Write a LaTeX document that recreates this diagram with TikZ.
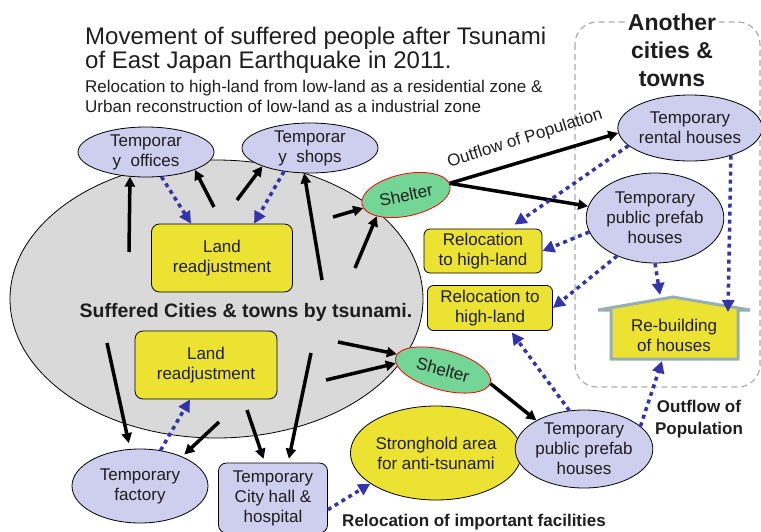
\documentclass[tikz,border=0pt]{standalone}
\usepackage{fontspec}
\setmainfont{Liberation Sans}
\usetikzlibrary{arrows.meta,shapes.geometric}
\definecolor{lav}{RGB}{206,206,238}
\definecolor{yel}{RGB}{236,226,50}
\definecolor{grn}{RGB}{115,213,150}
\definecolor{greyfill}{RGB}{217,217,217}
\definecolor{dotblue}{RGB}{51,51,170}
\definecolor{housebd}{RGB}{150,175,180}
\definecolor{dashgrey}{RGB}{170,170,170}
\definecolor{ink}{RGB}{30,30,30}
\begin{document}
\begin{tikzpicture}[x=1pt,y=-1pt,
 txt/.style={font=\fontsize{17}{20}\selectfont, align=center, inner sep=0pt, text=ink},
 lavell/.style={txt, ellipse, draw=black, line width=0.8pt, fill=lav},
 yelbox/.style={txt, rectangle, rounded corners=8pt, draw=black, line width=0.8pt, fill=yel},
 shel/.style={txt, ellipse, draw=red, line width=0.8pt, fill=grn, minimum height=42pt},
 blk/.style={line width=3.5pt, draw=black, -{Triangle[length=10pt,width=10pt]}},
 dot/.style={draw=dotblue, line width=3.5pt, dash pattern=on 4pt off 4pt, -{Triangle[length=12pt,width=12pt,fill=dotblue]}},
]
\path[use as bounding box] (0,0) rectangle (761,531);

% big area
\node[ellipse, draw=black, line width=0.8pt, fill=greyfill, minimum width=413pt, minimum height=278pt, inner sep=0pt] (city) at (216.5,299) {};
\node[txt, font=\bfseries\fontsize{19.5}{23}\selectfont] (suffered) at (246,312) {Suffered Cities \& towns by tsunami.};

% other cities box
\draw[dashgrey, line width=1.2pt, dash pattern=on 6pt off 4pt, rounded corners=22pt] (575,22) rectangle (760,387);
\node[txt, fill=white, inner sep=1pt, font=\bfseries\fontsize{23}{28}\selectfont] (another) at (672,50) {Another\\cities \&\\towns};

% titles
\node[anchor=base west, inner sep=0pt, text=ink, font=\fontsize{24}{28}\selectfont] (t1) at (85,44) {Movement of suffered people after Tsunami};
\node[anchor=base west, inner sep=0pt, text=ink, font=\fontsize{24}{28}\selectfont] (t2) at (85,68) {of East Japan Earthquake in 2011.};
\node[anchor=base west, inner sep=0pt, text=ink, font=\fontsize{17}{20}\selectfont] (s1) at (85,92) {Relocation to high-land from low-land as a residential zone \&};
\node[anchor=base west, inner sep=0pt, text=ink, font=\fontsize{17}{20}\selectfont] (s2) at (85,112) {Urban reconstruction of low-land as a industrial zone};

% nodes
\node[lavell, minimum width=136pt, minimum height=50pt] (offices) at (146,152) {Temporar\\y\ \ offices};
\node[lavell, minimum width=136pt, minimum height=50pt] (shops) at (310,148) {Temporar\\y\ \ shops};
\node[yelbox, minimum width=141pt, minimum height=68pt] (land1) at (222,258) {Land\\readjustment};
\node[shel, rotate=12, minimum width=90pt] (shelter1) at (406,195) {Shelter};
\node[yelbox, minimum width=142pt, minimum height=68pt] (land2) at (206,365) {Land\\readjustment};
\node[shel, rotate=-15, minimum width=98pt, minimum height=40pt] (shelter2) at (443,370) {Shelter};
\node[yelbox, rounded corners=6pt, minimum width=118pt, minimum height=44pt] (reloc1) at (483,251) {Relocation\\to high-land};
\node[yelbox, rounded corners=6pt, minimum width=125pt, minimum height=45pt] (reloc2) at (490,308) {Relocation to\\high-land};
\node[lavell, minimum width=138pt, minimum height=66pt] (rental) at (690,128) {Temporary\\rental houses};
\node[lavell, minimum width=114pt, minimum height=90pt] (prefab1) at (655,218) {Temporary\\public prefab\\houses};

% house
\draw[housebd, line width=3pt, fill=yel, line join=miter] (598,310) -- (673,297) -- (750,310) -- (738,310) -- (738,359) -- (611,359) -- (611,310) -- cycle;
\node[txt] (house) at (674,335) {Re-building\\of houses};

\node[lavell, minimum width=136pt, minimum height=74pt] (factory) at (140,486) {Temporary\\factory};
\node[txt, rectangle, rounded corners=8pt, draw=black, line width=0.8pt, fill=lav, minimum width=109pt, minimum height=70pt] (cityhall) at (273,498) {Temporary\\City hall \&\\hospital};
\node[txt, ellipse, draw=black, line width=0.8pt, fill=yel, minimum width=154pt, minimum height=94pt] (stronghold) at (436,453) {Stronghold area\\for anti-tsunami};
\node[lavell, minimum width=130pt, minimum height=78pt] (prefab2) at (584,449) {Temporary\\public prefab\\houses};

% labels
\node[txt, rotate=17.5] (outflow1) at (525,139) {Outflow of Population};
\node[txt, font=\bfseries\fontsize{17}{22}\selectfont] (outflow2) at (699,419) {Outflow of\\Population};
\node[txt, font=\bfseries\fontsize{17}{20}\selectfont, anchor=base] (reloclabel) at (474,526) {Relocation of important facilities};

% free ends
\coordinate (a1) at (129,252);
\coordinate (a2) at (214,207);
\coordinate (a3) at (237,200);
\coordinate (a4) at (322,280);
\coordinate (a5) at (333,217);
\coordinate (a6) at (355,268);
\coordinate (a7) at (338,342);
\coordinate (a8) at (326,380);
\coordinate (a9) at (107,343);
\coordinate (a10) at (219,422);
\coordinate (a11) at (247,410);
\coordinate (a12) at (311,353);
\coordinate (roofA) at (660,295);
\coordinate (roofB) at (728,312);
\coordinate (houseS) at (662,361);

% black arrows
\draw[blk] (a1) -- (offices.-123);
\draw[blk] (a2) -- (offices.-20);
\draw[blk] (a3) -- (shops.-159);
\draw[blk] (a4) -- (shops.-103);
\draw[blk] (a5) -- (shelter1.-175);
\draw[blk] (a6) -- (shelter1.-156);
\draw[blk] (shelter1.3) -- (rental.-176);
\draw[blk] (shelter1.3) -- (prefab1.170);
\draw[blk] (a7) -- (shelter2.176);
\draw[blk] (a8) -- (shelter2.-173);
\draw[blk] (shelter2.-1) -- (prefab2.149);
\draw[blk, shorten >=6pt] (a9) -- (factory.105);
\draw[blk, shorten >=3pt] (a10) -- (factory.35);
\draw[blk, shorten >=4pt] (a11) -- (cityhall.103);
\draw[blk, shorten >=4pt] (a12) -- (cityhall.67);

% dotted arrows
\draw[dot] (offices.-58) -- (land1.132);
\draw[dot] (shops.-138) -- (land1.47);
\draw[dot, shorten >=7pt] (rental.-164) -- (reloc1.41);
\draw[dot] (prefab1.-168) -- (reloc1.east);
\draw[dot] (prefab1.-135) -- (reloc2.east);
\draw[dot] (prefab1.-90) -- (roofA);
\draw[dot] (rental.-34) -- (roofB);
\draw[dot, shorten >=2pt] (prefab2.111) -- (reloc2.-48);
\draw[dot] (prefab2.22.5) -- (houseS);
\draw[dot] (factory.60) -- (land2.-115);
\draw[dot] (cityhall.-12) -- (stronghold.-155.6);
\end{tikzpicture}
\end{document}
